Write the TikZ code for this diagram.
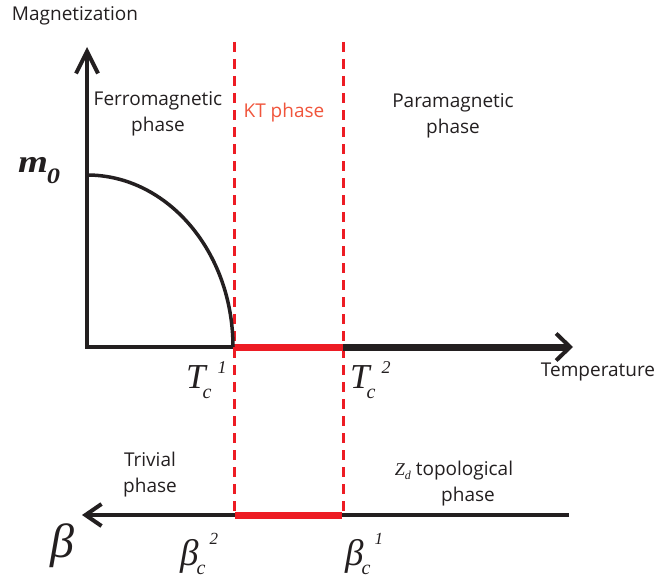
\documentclass[tikz,border=0pt]{standalone}
\usepackage{fontspec}
\usetikzlibrary{arrows.meta}
\setmainfont{Open Sans}
\newfontfamily\tnr{Liberation Serif}
\definecolor{ink}{RGB}{35,31,32}
\definecolor{ktred}{RGB}{237,28,36}
\definecolor{kttext}{RGB}{240,85,60}
\newcommand\symTc[1]{{\tnr\itshape\fontsize{35}{35}\selectfont T\kern-3pt\raisebox{-10pt}{\fontsize{20}{20}\selectfont c}\kern6pt\raisebox{15pt}{\fontsize{18}{18}\selectfont #1}}}
\newcommand\symBc[1]{{\tnr\itshape\fontsize{37}{37}\selectfont β\kern-2pt\raisebox{-9pt}{\fontsize{20}{20}\selectfont c}\kern4pt\raisebox{21pt}{\fontsize{17}{17}\selectfont #1}}}
\begin{document}
\begin{tikzpicture}[x=1pt,y=-1pt,
  lbl/.style={inner sep=0pt, text=ink, font=\fontsize{19}{26}\selectfont, align=center},
  sym/.style={inner sep=0pt, text=ink, anchor=base west},
  dashline/.style={draw=ktred, line width=3pt, dash pattern=on 10pt off 7pt},
  redseg/.style={draw=ktred, line width=7pt}]
\useasboundingbox (0,0) rectangle (659,578);
% coordinates
\coordinate (O) at (87,347);
\coordinate (Ytop) at (87,47);
\coordinate (Xend) at (573,347);
\coordinate (T1) at (233,347);
\coordinate (T2) at (343,347);
\coordinate (M0) at (87,175);
\coordinate (D1top) at (234,42);
\coordinate (D1bot) at (234,514);
\coordinate (D2top) at (343,42);
\coordinate (D2bot) at (343,514);
\coordinate (Bstart) at (569,515);
\coordinate (Bend) at (82,515);
\coordinate (B1) at (235,515);
\coordinate (B2) at (342,515);
% dashed phase boundaries
\draw[dashline] (D1top) -- (D1bot);
\draw[dashline] (D2top) -- (D2bot);
% axes
\draw[draw=ink, line width=4pt, -{Straight Barb[length=22pt, width=22pt, line width=4pt]}] (O) -- (Ytop);
\draw[draw=ink, line width=4pt, line cap=rect] (O) -- (T1);
\draw[redseg] (T1) -- (T2);
\draw[draw=ink, line width=7pt, -{Straight Barb[length=14pt, width=27pt, line width=4pt]}] (T2) -- (Xend);
% magnetization curve
\draw[draw=ink, line width=3.5pt] (M0) .. controls (167.6,175) and (233,252) .. (T1);
% bottom axis
\draw[draw=ink, line width=4.5pt, -{Straight Barb[length=16pt, width=22pt, line width=4pt]}] (Bstart) -- (Bend);
\draw[redseg] (B1) -- (B2);
% labels
\node[lbl] (mag) at (75,16) {Magnetization};
\node[lbl] (temp) at (598,372) {Temperature};
\node[lbl] (ferro) at (158,114) {Ferromagnetic\\phase};
\node[lbl, text=kttext] (kt) at (284,113) {KT phase};
\node[lbl] (para) at (453,116) {Paramagnetic\\phase};
\node[lbl] (triv) at (150,475) {Trivial\\phase};
\node[lbl] (topo) at (454,471) {{\tnr\itshape\fontsize{18}{18}\selectfont Z\raisebox{-4pt}{\fontsize{12}{12}\selectfont d}} topological};
\node[lbl] (topo2) at (468,497) {phase};
\node[sym] (m0) at (18,172) {\scalebox{1.2}[1]{\tnr\bfseries\itshape\fontsize{32}{32}\selectfont m\kern-1pt\raisebox{-11pt}{\fontsize{22}{22}\selectfont 0}}};
\node[sym] (tc1) at (186,388) {\symTc{1}};
\node[sym] (tc2) at (350,388) {\symTc{2}};
\node[sym] (beta) at (50,557) {\tnr\itshape\fontsize{48}{48}\selectfont β};
\node[sym] (bc2) at (180,565) {\symBc{2}};
\node[sym] (bc1) at (345,565) {\symBc{1}};
\end{tikzpicture}
\end{document}
